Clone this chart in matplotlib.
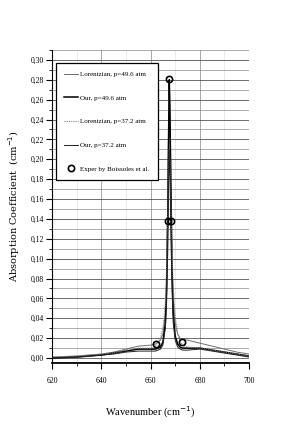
import matplotlib.pyplot as plt
from matplotlib.ticker import MultipleLocator, FuncFormatter

# wavenumber grid (cm-1) shared by the four model curves
wn = [620, 630, 640, 645, 650, 655, 660, 662, 664, 665, 666, 666.5, 667, 667.3,
      667.6, 667.9, 668.2, 668.7, 669.2, 670, 671, 672, 673, 675, 680, 685,
      690, 695, 700]

lor_496 = [0.001, 0.002, 0.004, 0.006, 0.009, 0.012, 0.013, 0.014, 0.018, 0.024,
           0.045, 0.075, 0.16, 0.23, 0.28, 0.25, 0.19, 0.10, 0.06, 0.035, 0.024,
           0.020, 0.019, 0.018, 0.015, 0.012, 0.009, 0.006, 0.004]
our_496 = [0.000, 0.001, 0.003, 0.005, 0.007, 0.009, 0.009, 0.009, 0.011, 0.016,
           0.035, 0.07, 0.15, 0.22, 0.28, 0.24, 0.18, 0.09, 0.045, 0.022, 0.014,
           0.011, 0.010, 0.010, 0.010, 0.008, 0.006, 0.004, 0.002]
lor_372 = [0.001, 0.002, 0.004, 0.005, 0.008, 0.010, 0.010, 0.012, 0.020, 0.030,
           0.055, 0.09, 0.15, 0.19, 0.21, 0.20, 0.16, 0.11, 0.07, 0.042, 0.025,
           0.016, 0.013, 0.011, 0.010, 0.008, 0.006, 0.004, 0.002]
our_372 = [0.000, 0.001, 0.003, 0.004, 0.006, 0.007, 0.007, 0.007, 0.009, 0.013,
           0.030, 0.055, 0.11, 0.17, 0.21, 0.18, 0.13, 0.07, 0.035, 0.018, 0.011,
           0.009, 0.008, 0.008, 0.009, 0.007, 0.005, 0.003, 0.001]

# experimental points (Boissoles et al.)
exp_x = [662.1, 667.1, 667.6, 668.3, 672.9]
exp_y = [0.014, 0.138, 0.281, 0.138, 0.016]

serif = "Liberation Serif"

fig = plt.figure(figsize=(2.89, 4.36), dpi=100)
ax = fig.add_axes([0.18, 0.1674, 0.682, 0.718])

ax.plot(wn, lor_496, color="#6e6e6e", lw=0.7, label="Lorentzian, p=49.6 atm")
ax.plot(wn, our_496, color="black", lw=1.1, label="Our, p=49.6 atm")
ax.plot(wn, lor_372, color="#808080", lw=0.8, ls=(0, (1, 1)), label="Lorentzian, p=37.2 atm")
ax.plot(wn, our_372, color="#222222", lw=0.7, label="Our, p=37.2 atm")
ax.plot(exp_x, exp_y, ls="none", marker="o", ms=4.5, mfc="none", mec="black",
        mew=1.2, label="Exper by Boissoles et al.")

ax.set_xlim(620, 700)
ax.set_ylim(-0.005, 0.31)

ax.xaxis.set_major_locator(MultipleLocator(20))
ax.xaxis.set_minor_locator(MultipleLocator(10))
ax.yaxis.set_major_locator(MultipleLocator(0.02))
ax.yaxis.set_minor_locator(MultipleLocator(0.01))
ax.yaxis.set_major_formatter(FuncFormatter(lambda v, p: f"{v:.2f}".replace(".", ",")))

ax.grid(which="major", axis="y", color="#555555", lw=0.6)
ax.grid(which="minor", axis="y", color="#8a8a8a", lw=0.5)
ax.grid(which="major", axis="x", color="#999999", lw=0.6)
ax.grid(which="minor", axis="x", color="#e2e2e2", lw=0.5)
ax.set_axisbelow(True)

for s in ["top", "right"]:
    ax.spines[s].set_visible(False)
ax.spines["left"].set_linewidth(0.8)
ax.spines["bottom"].set_linewidth(1.3)

ax.tick_params(which="major", direction="out", length=4, width=0.8,
               labelsize=5.5, pad=2)
ax.tick_params(which="minor", direction="out", length=2.5, width=0.6)
ax.tick_params(axis="x", which="major", pad=6)
for lab in ax.get_xticklabels() + ax.get_yticklabels():
    lab.set_family(serif)

ax.set_xlabel("Wavenumber (cm$^{-1}$)", family=serif, fontsize=7.5, labelpad=14)
ax.set_ylabel("Absorption Coefficient  (cm$^{-1}$)", family="DejaVu Serif",
              fontsize=7, labelpad=6)

leg = ax.legend(loc="upper left", bbox_to_anchor=(0.019, 0.958), borderaxespad=0,
                prop={"family": serif, "size": 5}, frameon=True, fancybox=False,
                edgecolor="black", labelspacing=2.55, handlelength=2.0,
                handletextpad=0.3, borderpad=1.2, numpoints=1)
leg.get_frame().set_linewidth(0.9)
leg.get_frame().set_alpha(1)

fig.savefig("out.png", dpi=100, facecolor="white")
